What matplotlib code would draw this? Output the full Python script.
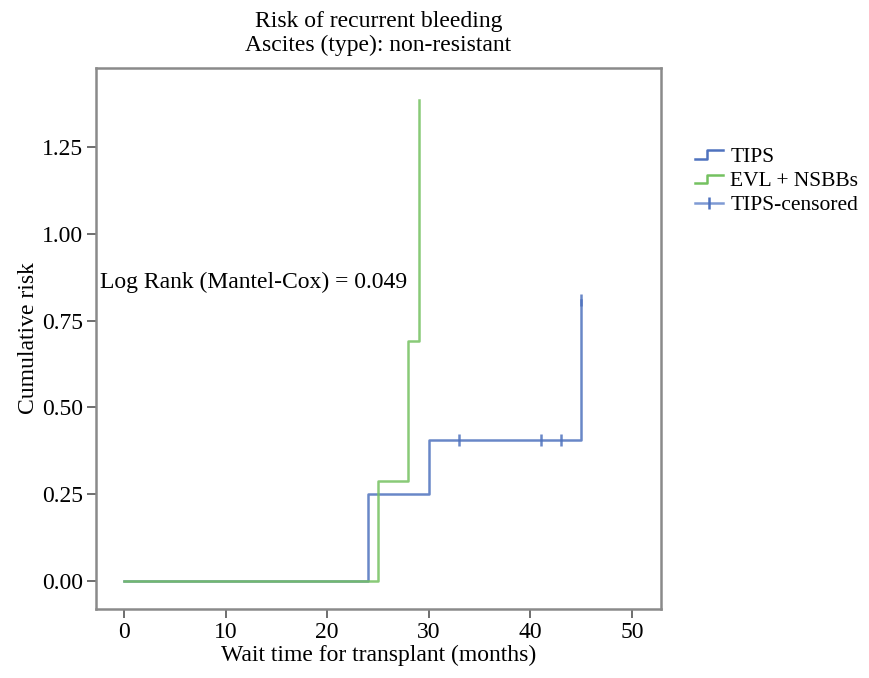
import matplotlib
matplotlib.use("Agg")
import matplotlib.pyplot as plt
from matplotlib.lines import Line2D
from matplotlib.legend_handler import HandlerBase

plt.rcParams["font.family"] = ["Liberation Serif", "DejaVu Serif"]

# Kaplan-Meier style cumulative risk steps
tips_t = [0, 24, 30, 45]
tips_risk = [0.0, 0.25, 0.405, 0.81]
tips_end = 45
tips_cens_t = [33, 41, 43, 45]
tips_cens_risk = [0.405, 0.405, 0.405, 0.81]

evl_t = [0, 25, 28, 29]
evl_risk = [0.0, 0.288, 0.692, 1.385]
evl_end = 29

blue = "#4f72be"
green = "#74c160"
light_blue = "#7f9ad4"
fs = 17


class StepHandler(HandlerBase):
    # little step glyph like the SPSS legend
    def create_artists(self, legend, orig, xd, yd, width, height, fontsize, trans):
        lo, hi = yd + height * 0.2, yd + height * 0.75
        mid = xd + width * 0.45
        ln = Line2D([xd, mid, mid, xd + width], [lo, lo, hi, hi],
                    color=orig.get_color(), lw=orig.get_linewidth(),
                    transform=trans)
        return [ln]


fig = plt.figure(figsize=(8.7, 6.78), dpi=100)
ax = fig.add_axes([96 / 870, 1 - 609 / 678, 565 / 870, 541 / 678])

ax.step(tips_t + [tips_end], tips_risk + [tips_risk[-1]], where="post",
        color=blue, lw=1.8, alpha=0.85)
ax.step(evl_t + [evl_end], evl_risk + [evl_risk[-1]], where="post",
        color=green, lw=1.8, alpha=0.85)
ax.plot(tips_cens_t, tips_cens_risk, ls="none", marker="|", ms=8, mew=1.8,
        color=blue, alpha=0.85)

ax.set_xlim(-2.75, 52.85)
ax.set_ylim(-0.081, 1.478)
ax.set_xticks([0, 10, 20, 30, 40, 50])
ax.set_yticks([0.0, 0.25, 0.5, 0.75, 1.0, 1.25])
ax.set_yticklabels(["0.00", "0.25", "0.50", "0.75", "1.00", "1.25"])
ax.tick_params(labelsize=fs, length=6.5, width=1.2, color="#555555", pad=3)
for s in ax.spines.values():
    s.set_color("#8a8a8a")
    s.set_linewidth(1.8)

ax.set_xlabel("Wait time for transplant (months)", fontsize=fs, labelpad=1)
ax.set_ylabel("Cumulative risk", fontsize=fs, labelpad=2)
ax.set_title("Risk of recurrent bleeding\nAscites (type): non-resistant",
             fontsize=fs, pad=12, linespacing=1.2)

ax.text(-2.35, 0.86, "Log Rank (Mantel-Cox) = 0.049", fontsize=fs,
        ha="left", va="center")

h_tips = Line2D([], [], color=blue, lw=1.8)
h_evl = Line2D([], [], color=green, lw=1.8)
h_cens = Line2D([], [], color=light_blue, lw=1.8, marker="|", ms=8, mew=1.8,
                markeredgecolor=blue)
fig.legend([h_tips, h_evl, h_cens], ["TIPS", "EVL + NSBBs", "TIPS-censored"],
           handler_map={h_tips: StepHandler(), h_evl: StepHandler()},
           loc="upper left", bbox_to_anchor=(686 / 870, 1 - 138 / 678),
           frameon=False, fontsize=15.5, handlelength=1.3, handletextpad=0.35,
           labelspacing=0.2, borderaxespad=0)

fig.savefig("out.png", dpi=100, facecolor="white")
